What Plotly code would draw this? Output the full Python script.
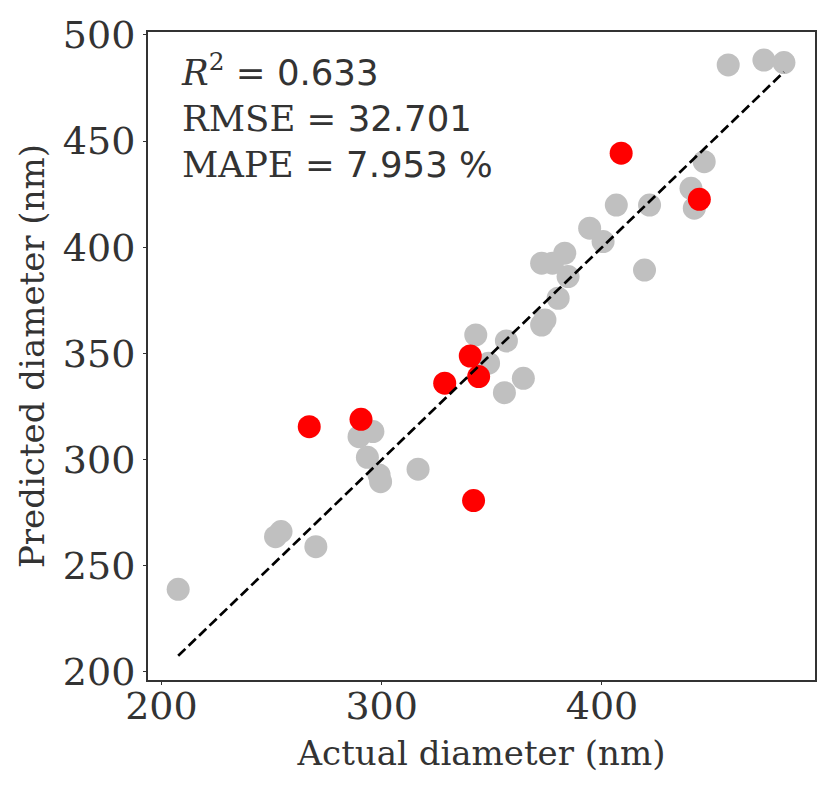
import plotly.graph_objects as go

# ---------------------------------------------------------
# data (nm)
# ---------------------------------------------------------
actual_gray = [207.6, 251.8, 254.3, 270.1, 289.7, 296.0, 293.5, 298.8, 299.5, 316.5,
               342.7, 348.5, 356.6, 364.3, 355.7, 372.6, 374.1, 380.1, 384.6, 372.6,
               377.5, 383.1, 394.4, 400.5, 406.5, 419.3, 421.6, 440.4, 441.9, 446.4,
               457.3, 473.5, 482.6]
pred_gray = [238.9, 263.7, 266.1, 259.0, 310.8, 313.2, 301.1, 292.8, 289.6, 295.5,
             358.7, 345.4, 355.9, 338.3, 331.5, 363.4, 365.8, 376.0, 386.2, 392.5,
             392.5, 397.2, 409.0, 402.7, 419.9, 389.3, 419.9, 427.8, 418.4, 440.3,
             485.9, 488.2, 487.0]

actual_red = [267.1, 290.6, 328.6, 340.2, 344.0, 341.7, 408.7, 444.2]
pred_red = [315.5, 319.0, 336.0, 348.8, 339.1, 280.7, 444.3, 422.6]

R2 = 0.633
RMSE = 32.701
MAPE = 7.953

X_RANGE = [193.9, 496.7]
Y_RANGE = [196.2, 501.4]

SERIF = "DejaVu Serif"
SANS = "DejaVu Sans"
TXT = "#333333"

all_actual = actual_gray + actual_red
lo, hi = min(all_actual), max(all_actual)

fig = go.Figure()

fig.add_trace(go.Scatter(
    x=actual_gray, y=pred_gray, mode="markers",
    marker=dict(color="#c0c0c0", size=23, line=dict(width=0)),
    showlegend=False,
))

fig.add_trace(go.Scatter(
    x=actual_red, y=pred_red, mode="markers",
    marker=dict(color="#ff0000", size=23, line=dict(width=0)),
    showlegend=False,
))

# identity line
fig.add_trace(go.Scatter(
    x=[lo, hi], y=[lo, hi], mode="lines",
    line=dict(color="black", width=2.7, dash="10px,4.5px"),
    showlegend=False,
))

stats = (
    f"<i>R</i><sup>2</sup> = <span style='font-family:{SANS}'>{R2:.3f}</span><br>"
    f"RMSE = <span style='font-family:{SANS}'>{RMSE:.3f}</span><br>"
    f"MAPE = <span style='font-family:{SANS}'>{MAPE:.3f} %</span>"
)
fig.add_annotation(
    x=0.047, y=0.98, xref="paper", yref="paper",
    xanchor="left", yanchor="top", align="left",
    text=stats, showarrow=False,
    font=dict(family=SERIF, size=35.5, color=TXT),
)

axis_common = dict(
    showgrid=False, zeroline=False, automargin=False,
    showline=True, mirror=True, linecolor="#333333", linewidth=2,
    ticks="outside", ticklen=3, tickcolor="#333333",
    tickfont=dict(family=SERIF, size=38, color=TXT),
    title_font=dict(family=SERIF, size=34, color=TXT),
)

fig.update_xaxes(range=X_RANGE, tickvals=[200, 300, 400], ticklabelstandoff=-12,
                 title_text="Actual diameter (nm)", title_standoff=15, **axis_common)
fig.update_yaxes(range=Y_RANGE, tickvals=[200, 250, 300, 350, 400, 450, 500],
                 title_text="Predicted diameter (nm)", title_standoff=8, **axis_common)

fig.update_layout(
    width=822, height=782,
    margin=dict(l=140, r=15, t=24, b=110),
    paper_bgcolor="white", plot_bgcolor="white",
)

fig.write_html("out.html")
